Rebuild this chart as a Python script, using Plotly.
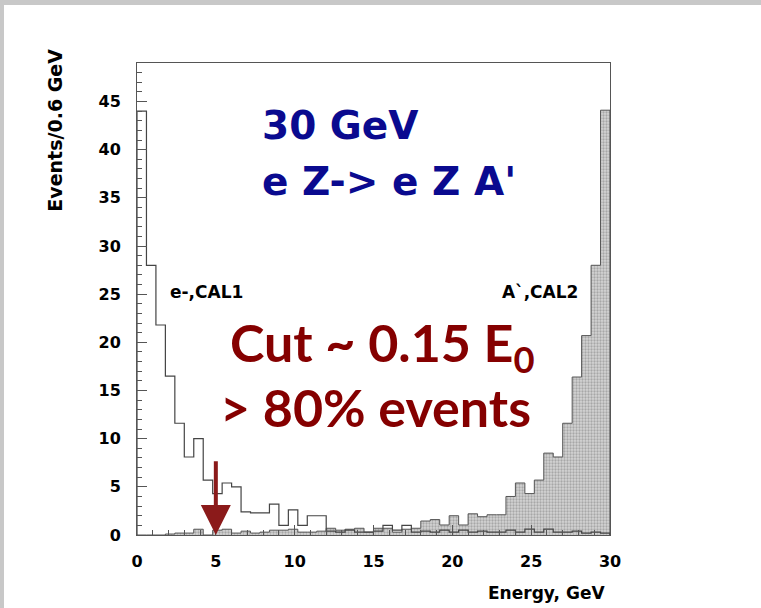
import plotly.graph_objects as go

# ---------------- data ----------------
BIN_WIDTH = 0.6          # GeV per bin
E_MAX = 30               # GeV
CUT_E = 5                # GeV, position of the cut arrow

# e-, CAL1 (open histogram), 50 bins of 0.6 GeV
electron_cal1 = [44.0, 28.0, 21.8, 16.5, 11.6, 8.1, 10.0, 5.7, 4.3, 5.4,
                 5.0, 2.4, 2.3, 2.3, 3.2, 1.0, 2.6, 1.0, 2.0, 2.0,
                 0.4, 0.3, 0.5, 0.3, 0.3, 0.4, 1.0, 0.5, 1.0, 0.3,
                 0.4, 0.3, 0.5, 0.3, 0.5, 0.3, 0.4, 0.3, 0.3, 0.5,
                 0.3, 0.6, 0.3, 0.6, 0.3, 0.3, 0.4, 0.2, 0.3, 0.2]

# A', CAL2 (hatched histogram)
aprime_cal2 = [0.0, 0.0, 0.0, 0.1, 0.2, 0.2, 0.6, 0.0, 0.5, 0.6,
               0.2, 0.4, 0.2, 0.3, 0.5, 0.5, 0.6, 0.3, 0.3, 0.4,
               0.7, 0.5, 0.6, 0.7, 0.3, 0.7, 0.7, 0.3, 0.6, 0.7,
               1.45, 1.6, 1.04, 2.0, 1.04, 2.2, 1.9, 2.1, 2.1, 4.0,
               5.4, 4.3, 5.7, 8.5, 8.1, 11.6, 16.4, 20.7, 28.0, 44.1]

x_ticks = [0, 5, 10, 15, 20, 25, 30]
y_ticks = [0, 5, 10, 15, 20, 25, 30, 35, 40, 45]

# ---------------- helpers ----------------
edges = [round(i * BIN_WIDTH, 4) for i in range(len(electron_cal1) + 1)]


def step_xy(vals):
    xs = [edges[0]] + edges[:-1] + [edges[-1], edges[-1]]
    ys = [0] + list(vals) + [vals[-1], 0]
    return xs, ys


ROOT_FONT = "DejaVu Sans"
AX_COL = "#555555"

fig = go.Figure()

xa, ya = step_xy(aprime_cal2)
fig.add_trace(go.Scatter(
    x=xa, y=ya, mode="lines", line_shape="hv",
    line=dict(color="#555555", width=1),
    fill="tozeroy",
    fillpattern=dict(shape=".", fgcolor="#7a7a7a", bgcolor="#d4d4d4",
                     size=3, solidity=0.45),
    hoverinfo="skip", showlegend=False))

xe, ye = step_xy(electron_cal1)
fig.add_trace(go.Scatter(
    x=xe, y=ye, mode="lines", line_shape="hv",
    line=dict(color="#444444", width=1.2),
    hoverinfo="skip", showlegend=False))

axis_common = dict(
    showgrid=False, zeroline=False,
    showline=True, mirror=True, linecolor=AX_COL, linewidth=1,
    ticks="inside", ticklen=10, tickcolor=AX_COL, tickwidth=1,
    tickfont=dict(family=ROOT_FONT, size=16, color="black", weight="bold"),
    minor=dict(dtick=1, ticks="inside", ticklen=5, tickcolor=AX_COL),
)

fig.update_xaxes(range=[0, E_MAX], tickvals=x_ticks, ticklabelstandoff=12,
                 **axis_common)
fig.update_yaxes(range=[0, 49], tickvals=y_ticks, ticklabelstandoff=12,
                 **axis_common)

annotations = [
    # axis titles
    dict(text="Events/0.6 GeV", xref="paper", yref="paper", x=-0.173, y=0.857,
         textangle=-90, showarrow=False, xanchor="center", yanchor="middle",
         font=dict(family=ROOT_FONT, size=19, color="black", weight="bold")),
    dict(text="Energy, GeV", xref="paper", yref="paper", x=0.994, y=-0.123,
         showarrow=False, xanchor="right", yanchor="middle",
         font=dict(family=ROOT_FONT, size=17, color="black", weight="bold")),
    # histogram labels
    dict(text="e-,CAL1", x=1.97, y=25.2, xref="x", yref="y", showarrow=False,
         xanchor="left", yanchor="middle",
         font=dict(family=ROOT_FONT, size=17, color="black", weight="bold")),
    dict(text="A`,CAL2", x=23.0, y=25.2, xref="x", yref="y", showarrow=False,
         xanchor="left", yanchor="middle",
         font=dict(family=ROOT_FONT, size=17, color="black", weight="bold")),
    # blue title
    dict(text="30 GeV", x=7.8, y=42.5, xref="x", yref="y", showarrow=False,
         xanchor="left", yanchor="middle",
         font=dict(family=ROOT_FONT, size=39, color="#0a0a8f", weight="bold")),
    dict(text="e Z-> e Z A'", x=7.8, y=36.7, xref="x", yref="y", showarrow=False,
         xanchor="left", yanchor="middle",
         font=dict(family=ROOT_FONT, size=39, color="#0a0a8f", weight="bold")),
    # red cut text
    dict(text="Cut ~ 0.15 E<sub>0</sub>", x=5.8, y=19.6, xref="x", yref="y",
         showarrow=False, xanchor="left", yanchor="middle",
         font=dict(family="Lato", size=52, color="#850000", weight="bold")),
    dict(text="> 80% events", x=5.15, y=13.3, xref="x", yref="y",
         showarrow=False, xanchor="left", yanchor="middle",
         font=dict(family="Lato", size=52, color="#850000", weight="bold")),
    # cut arrow
    dict(text="", x=CUT_E, y=0, xref="x", yref="y", ax=CUT_E, ay=7.8,
         axref="x", ayref="y", showarrow=True, arrowhead=2, arrowsize=1.5,
         arrowwidth=4, arrowcolor="#8b1a1a", standoff=0),
]

L, R, T, B = 137, 151, 63, 73
W, H = 761, 608
pw, ph = W - L - R, H - T - B


def px2paper_x(px):
    return (px - L) / pw


def px2paper_y(py):
    return (H - B - py) / ph


shapes = [
    dict(type="rect", xref="paper", yref="paper",
         x0=px2paper_x(0), x1=px2paper_x(W), y0=px2paper_y(5), y1=px2paper_y(0),
         fillcolor="#c8c8c8", line=dict(width=0), layer="below"),
    dict(type="rect", xref="paper", yref="paper",
         x0=px2paper_x(0), x1=px2paper_x(4), y0=px2paper_y(H), y1=px2paper_y(0),
         fillcolor="#c8c8c8", line=dict(width=0), layer="below"),
]

fig.update_layout(
    width=W, height=H,
    margin=dict(l=L, r=R, t=T, b=B),
    paper_bgcolor="white", plot_bgcolor="white",
    annotations=annotations, shapes=shapes,
    showlegend=False,
)

fig.write_html("out.html")
